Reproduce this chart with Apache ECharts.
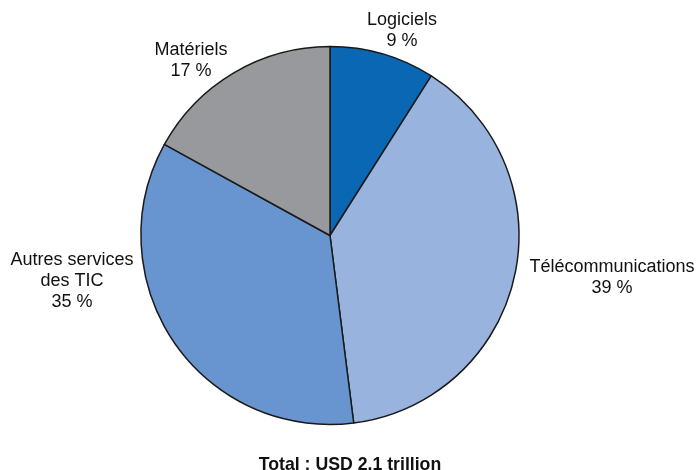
<!DOCTYPE html>
<html>
<head>
<meta charset="utf-8">
<script src="https://cdn.jsdelivr.net/npm/echarts@6/dist/echarts.min.js"></script>
<style>
  html, body { margin: 0; padding: 0; background: #ffffff; }
  #chart { width: 700px; height: 470px; }
</style>
</head>
<body>
<div id="chart"></div>
<script>
// ICT market shares, clockwise from 12 o'clock
const categories = ['Logiciels', 'Télécommunications', 'Autres services\ndes TIC', 'Matériels'];
const shares = [9, 39, 35, 17];
const totalLabel = 'Total : USD 2.1 trillion';

const sliceColors = ['#0a67b4', '#98b3dd', '#6894cf', '#98999c'];
// Centre of each label block, in pixels
const labelAnchors = [[402, 31], [612, 278], [72, 281], [191, 61]];

const chart = echarts.init(document.getElementById('chart'), null, { renderer: 'canvas' });

chart.setOption({
  animation: false,
  backgroundColor: '#ffffff',
  title: {
    text: totalLabel,
    left: 'center',
    top: 451,
    textStyle: {
      fontFamily: 'Liberation Sans, Arial, sans-serif',
      fontSize: 17.7,
      fontWeight: 'bold',
      color: '#111111'
    }
  },
  series: [{
    type: 'pie',
    center: [330, 235.5],
    radius: [0, 189],
    startAngle: 90,
    clockwise: true,
    avoidLabelOverlap: false,
    itemStyle: { borderColor: '#1a1a1a', borderWidth: 1.5 },
    label: {
      show: true,
      position: 'outside',
      formatter: function (p) { return p.name + '\n' + p.value + ' %'; },
      fontFamily: 'Liberation Sans, Arial, sans-serif',
      fontSize: 18,
      lineHeight: 21,
      color: '#111111'
    },
    labelLine: { show: false },
    labelLayout: function (params) {
      const a = labelAnchors[params.dataIndex];
      return { x: a[0], y: a[1], align: 'center', verticalAlign: 'middle' };
    },
    emphasis: { disabled: true },
    data: categories.map(function (name, i) {
      return { name: name, value: shares[i], itemStyle: { color: sliceColors[i] } };
    })
  }]
});
</script>
</body>
</html>
